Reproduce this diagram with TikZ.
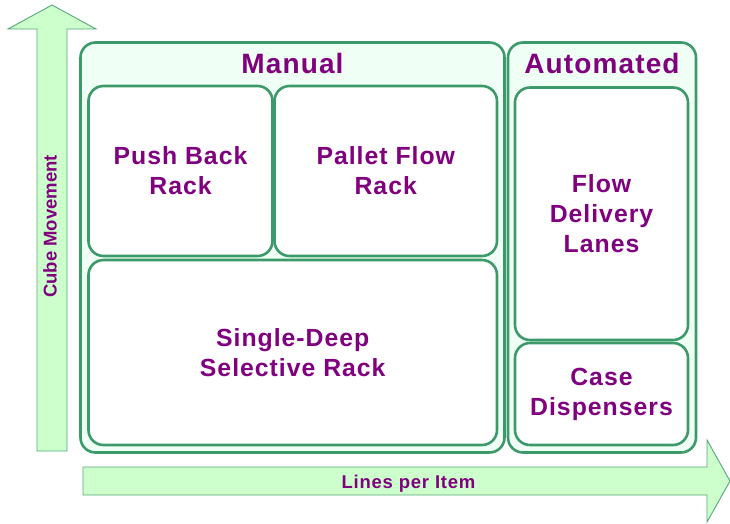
\documentclass[tikz,border=0pt]{standalone}
\usepackage{fontspec}
\setmainfont{Liberation Sans}
\newfontfamily\rackfont[LetterSpace=4]{Liberation Sans}
\usepackage{tikz}
\definecolor{rackgreen}{HTML}{3C9A6A}
\definecolor{palegreen}{HTML}{F0FFF5}
\definecolor{arrowgreen}{HTML}{CCFFCC}
\definecolor{arrowline}{HTML}{55A77A}
\definecolor{rackpurple}{HTML}{800080}
\tikzstyle{groupbox} = [draw=rackgreen, fill=palegreen, line width=2.6pt,
rectangle, rounded corners=15pt, inner sep=0pt]
\tikzstyle{rackbox} = [draw=rackgreen, fill=white, line width=2.6pt,
rectangle, rounded corners=15pt, inner sep=0pt, align=center,
text=rackpurple, font=\rackfont\bfseries\fontsize{24.8}{30}\selectfont]
\tikzstyle{grouptitle} = [text=rackpurple, anchor=base, inner sep=0pt,
font=\rackfont\bfseries\fontsize{28}{32}\selectfont]
\tikzstyle{axisarrow} = [draw=arrowline, fill=arrowgreen, line width=0.9pt]
\tikzstyle{axislabel} = [text=rackpurple, inner sep=0pt,
font=\bfseries\fontsize{18.5}{20}\selectfont]

\begin{document}
\begin{tikzpicture}[x=1pt,y=-1pt]
		\useasboundingbox (0,0) rectangle (730,523);
		% axes
		\draw [axisarrow] (37,451) -- (37,29) -- (8,29) -- (52,5) -- (96,29)
			-- (67,29) -- (67,451) -- cycle;
		\draw [axisarrow] (83,467) -- (707,467) -- (707,440) -- (730,481)
			-- (707,522) -- (707,495) -- (83,495) -- cycle;
		\node [axislabel, rotate=90] (cube) at (50,226.5) {Cube Movement};
		\node [axislabel, anchor=base] (lines) at (408.5,488) {\rackfont Lines per Item};
		% groups
		\node [groupbox, minimum width=424pt, minimum height=410pt] (manual) at (292.5,247.5) {};
		\node [groupbox, minimum width=188pt, minimum height=410pt] (auto) at (602,247.5) {};
		\node [grouptitle] (manualtitle) at (292.5,73) {Manual};
		\node [grouptitle] (autotitle) at (602,73) {Automated};
		% racks
		\node [rackbox, minimum width=184pt, minimum height=170pt] (push) at (180.5,171)
			{Push Back\\Rack};
		\node [rackbox, minimum width=222.5pt, minimum height=170pt] (pallet) at (385.75,171)
			{Pallet Flow\\Rack};
		\node [rackbox, minimum width=408.5pt, minimum height=185pt] (single) at (292.75,352.5)
			{Single-Deep\\Selective Rack};
		\node [rackbox, minimum width=173pt, minimum height=252.5pt] (flow) at (601.5,213.75)
			{Flow\\Delivery\\Lanes};
		\node [rackbox, minimum width=173pt, minimum height=102pt] (case) at (601.5,394)
			{Case\\Dispensers};
\end{tikzpicture}
\end{document}
